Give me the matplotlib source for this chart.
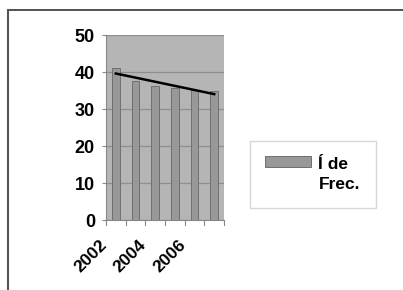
import matplotlib
matplotlib.use('Agg')
import matplotlib.pyplot as plt
import matplotlib.transforms as mtransforms
from matplotlib.lines import Line2D
import numpy as np

years = ['2002', '2003', '2004', '2005', '2006', '2007']
values = [41.2, 37.6, 36.3, 35.8, 35.1, 35.0]
tick_labels = ['2002', '', '2004', '', '2006', '']

plt.rcParams['font.family'] = ['Liberation Sans', 'DejaVu Sans']
plt.rcParams['font.weight'] = 'bold'

fig = plt.figure(figsize=(4.03, 2.90), dpi=100)
ax = fig.add_axes([0.263, 0.241, 0.293, 0.638])

x = np.arange(len(years))
ax.set_facecolor('#b5b5b5')
ax.set_axisbelow(True)
ax.yaxis.grid(True, color='#8e8e8e', linewidth=0.9)
bars = ax.bar(x, values, width=0.4, color='#989898', edgecolor='#707070',
              linewidth=0.7, label='Í de\nFrec.')

# linear trend over the series
k, b = np.polyfit(x, values, 1)
ax.plot(x, k * x + b, color='black', linewidth=1.8)

ax.set_xlim(-0.5, len(years) - 0.5)
ax.set_ylim(0, 50)
ax.set_yticks([0, 10, 20, 30, 40, 50])
ax.tick_params(axis='y', labelsize=13, length=3, color='#888888', pad=5)
ax.set_xticks(x)
ax.set_xticklabels(tick_labels, rotation=45, ha='right', fontsize=12.5)
ax.tick_params(axis='x', length=0, pad=12)
offset = mtransforms.ScaledTranslation(-0.06, 0, fig.dpi_scale_trans)
for lab in ax.get_xticklabels():
    lab.set_transform(lab.get_transform() + offset)
# boundary ticks like the original
for xb in np.arange(-0.5, len(years)):
    ax.plot([xb, xb], [0, -1.2], color='#888888', linewidth=0.8, clip_on=False)

for s in ['top', 'right']:
    ax.spines[s].set_visible(False)
ax.spines['left'].set_color('#888888')
ax.spines['bottom'].set_color('#888888')

leg = fig.legend(handles=[bars], labels=['Í de\nFrec.'], loc='upper left',
                 bbox_to_anchor=(0.62, 0.514), borderaxespad=0, fontsize=12.5,
                 frameon=True, fancybox=False, edgecolor='#cccccc',
                 handlelength=2.6, handleheight=0.6, borderpad=0.9,
                 handletextpad=0.45, labelspacing=0.2)
leg.get_frame().set_linewidth(1.0)
for t in leg.get_texts():
    t.set_linespacing(1.45)
# put the swatch next to the first text line
h = leg.legend_handles[0]
h.set_y(h.get_y() + 9)

fig.add_artist(Line2D([8 / 403, 1.0], [1 - 10 / 290, 1 - 10 / 290], color='#333333', linewidth=1.2))
fig.add_artist(Line2D([8 / 403, 8 / 403], [0, 1 - 10 / 290], color='#555555', linewidth=1.5))

fig.savefig('out.png', dpi=100)
